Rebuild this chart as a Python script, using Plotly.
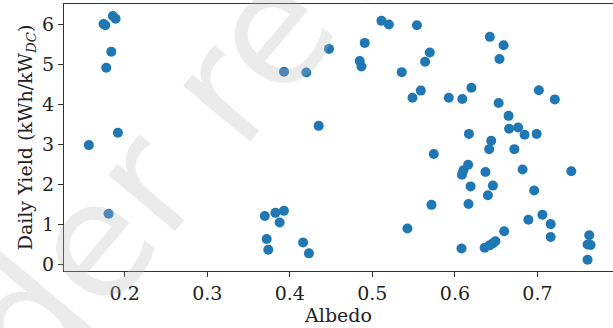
import plotly.graph_objects as go

albedo = [0.1744, 0.1765, 0.1857, 0.1890, 0.1838, 0.1777, 0.1918, 0.1566, 0.1805,
          0.3930, 0.4200, 0.4475, 0.4350, 0.3697, 0.3825, 0.3929, 0.3877, 0.3720,
          0.3739, 0.4161, 0.4232, 0.4847, 0.4868, 0.4908, 0.5110, 0.5200, 0.5540,
          0.5356, 0.5696, 0.5639, 0.5486, 0.5587, 0.5926, 0.6090, 0.6200, 0.6423,
          0.6590, 0.6540, 0.6530, 0.7017, 0.7210, 0.6650, 0.6657, 0.6766, 0.6844,
          0.6990, 0.6170, 0.6440, 0.6415, 0.6720, 0.5744, 0.6103, 0.6085, 0.6160,
          0.6370, 0.6820, 0.7410, 0.6190, 0.6460, 0.6400, 0.6960, 0.5716, 0.6165,
          0.7060, 0.7160, 0.6890, 0.7160, 0.5425, 0.6597, 0.6080, 0.6360, 0.6420,
          0.6460, 0.6490, 0.7627, 0.7607, 0.7644, 0.7607]
daily_yield = [6.00, 5.97, 6.20, 6.13, 5.31, 4.91, 3.29, 2.98, 1.27,
               4.81, 4.79, 5.38, 3.46, 1.21, 1.29, 1.34, 1.05, 0.64,
               0.37, 0.55, 0.28, 5.08, 4.94, 5.53, 6.08, 5.99, 5.97,
               4.80, 5.29, 5.06, 4.16, 4.34, 4.16, 4.13, 4.41, 5.68,
               5.47, 5.13, 4.03, 4.35, 4.12, 3.71, 3.39, 3.42, 3.24,
               3.26, 3.26, 3.09, 2.88, 2.88, 2.76, 2.35, 2.24, 2.49,
               2.31, 2.37, 2.33, 1.95, 1.97, 1.73, 1.85, 1.49, 1.51,
               1.245, 1.01, 1.12, 0.69, 0.90, 0.83, 0.40, 0.42, 0.48,
               0.53, 0.58, 0.73, 0.50, 0.49, 0.12]

x_ticks = [0.2, 0.3, 0.4, 0.5, 0.6, 0.7]
y_ticks = [0, 1, 2, 3, 4, 5, 6]

FONT = "DejaVu Serif"
AX = "#333333"

fig = go.Figure()
fig.add_trace(go.Scatter(
    x=albedo, y=daily_yield, mode="markers",
    marker=dict(color="#1f77b4", size=10, line=dict(width=0)),
    showlegend=False, hoverinfo="skip",
))

fig.update_layout(
    width=613, height=328,
    margin=dict(l=64, r=0, t=4, b=57),
    paper_bgcolor="white", plot_bgcolor="white",
    font=dict(family=FONT, size=19, color="#222222"),
    xaxis=dict(
        range=[0.1265, 0.7915], tickvals=x_ticks,
        ticktext=[f"{v:.1f}" for v in x_ticks],
        showgrid=False, zeroline=False,
        showline=True, linecolor=AX, linewidth=1.2, mirror=True,
        ticks="outside", ticklen=5, tickwidth=1, tickcolor=AX,
        title=dict(text="Albedo", standoff=2, font=dict(size=19)),
    ),
    yaxis=dict(
        range=[-0.16, 6.5], tickvals=y_ticks,
        showgrid=False, zeroline=False,
        showline=True, linecolor=AX, linewidth=1.2, mirror=False,
        ticks="outside", ticklen=5, tickwidth=1, tickcolor=AX,
        title=dict(text="Daily Yield (kWh/kW<sub><i>DC</i></sub>)", standoff=4, font=dict(size=19)),
    ),
)

fig.add_annotation(
    text="Under review", xref="paper", yref="paper", x=0.241, y=0.568,
    xanchor="center", yanchor="middle", showarrow=False, textangle=-50,
    font=dict(family="DejaVu Sans", size=160, color="rgba(185,185,185,0.29)"),
)

fig.write_html("out.html")
